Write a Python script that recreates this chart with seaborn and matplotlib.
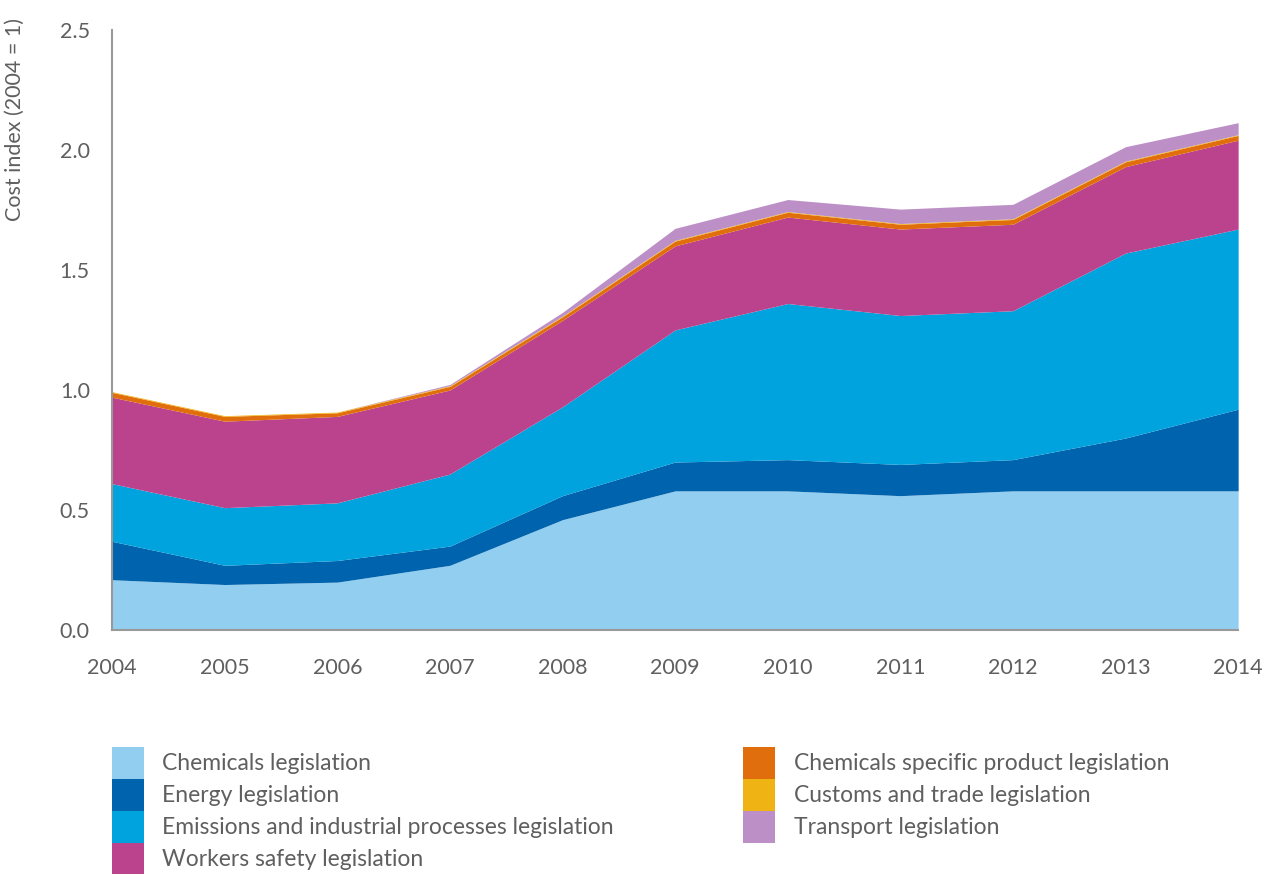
import pandas as pd
import matplotlib.pyplot as plt
import matplotlib.patches as mpatches
import seaborn as sns

# --- DATA ---
years = [2004, 2005, 2006, 2007, 2008, 2009, 2010, 2011, 2012, 2013, 2014]
chemicals = [0.21, 0.19, 0.20, 0.27, 0.46, 0.58, 0.58, 0.56, 0.58, 0.58, 0.58]
energy = [0.16, 0.08, 0.09, 0.08, 0.10, 0.12, 0.13, 0.13, 0.13, 0.22, 0.34]
emissions = [0.24, 0.24, 0.24, 0.30, 0.37, 0.55, 0.65, 0.62, 0.62, 0.77, 0.75]
workers = [0.36, 0.36, 0.36, 0.35, 0.36, 0.35, 0.36, 0.36, 0.36, 0.36, 0.37]
chem_specific = [0.02, 0.02, 0.015, 0.015, 0.015, 0.02, 0.02, 0.02, 0.02, 0.02, 0.02]
customs = [0.003] * 11
transport = [0.0, 0.0, 0.0, 0.005, 0.015, 0.05, 0.05, 0.06, 0.06, 0.06, 0.05]

labels = [
    'Chemicals legislation',
    'Energy legislation',
    'Emissions and industrial processes legislation',
    'Workers safety legislation',
    'Chemicals specific product legislation',
    'Customs and trade legislation',
    'Transport legislation',
]
colors = ['#92CEEF', '#0063AE', '#00A3DD', '#BB428C', '#E06E0C', '#F0B314', '#BC90C6']

df = pd.DataFrame({
    labels[0]: chemicals,
    labels[1]: energy,
    labels[2]: emissions,
    labels[3]: workers,
    labels[4]: chem_specific,
    labels[5]: customs,
    labels[6]: transport,
}, index=years)

sns.set_style('white')
plt.rcParams['font.family'] = ['Lato', 'DejaVu Sans']
grey = '#5f5f5f'

fig = plt.figure(figsize=(12.66, 8.74), dpi=100)
ax = fig.add_axes([0.0885, 0.279, 0.8895, 0.687])

ax.stackplot(df.index, [df[c] for c in labels], colors=sns.color_palette(colors), linewidth=0)

ax.set_xlim(2004, 2014)
ax.set_ylim(0, 2.5)
ax.set_xticks(years)
ax.set_yticks([0, 0.5, 1.0, 1.5, 2.0, 2.5])
ax.set_yticklabels(['0.0', '0.5', '1.0', '1.5', '2.0', '2.5'])
ax.tick_params(axis='both', colors=grey, labelsize=15.5, length=0)
ax.tick_params(axis='x', pad=20)
ax.tick_params(axis='y', pad=16)
ax.set_ylabel('Cost index (2004 = 1)', color=grey, fontsize=15.5)
ax.yaxis.set_label_coords(-0.077, 0.85)
sns.despine(ax=ax)
for s in ['left', 'bottom']:
    ax.spines[s].set_color('#999999')
    ax.spines[s].set_linewidth(1.5)

# --- LEGEND: two blocks of square colour patches ---
handles = [mpatches.Patch(color=c, label=l, linewidth=0) for c, l in zip(colors, labels)]
leg_kw = dict(frameon=False, fontsize=16.5, labelcolor=grey, handlelength=1.4,
              handleheight=1.77, labelspacing=0, handletextpad=0.8, borderpad=0,
              borderaxespad=0, loc='upper left')
fig.legend(handles=handles[:4], bbox_to_anchor=(0.0885, 0.1453), **leg_kw)
fig.legend(handles=handles[4:], bbox_to_anchor=(0.587, 0.1453), **leg_kw)

plt.savefig('out.png', dpi=100)
